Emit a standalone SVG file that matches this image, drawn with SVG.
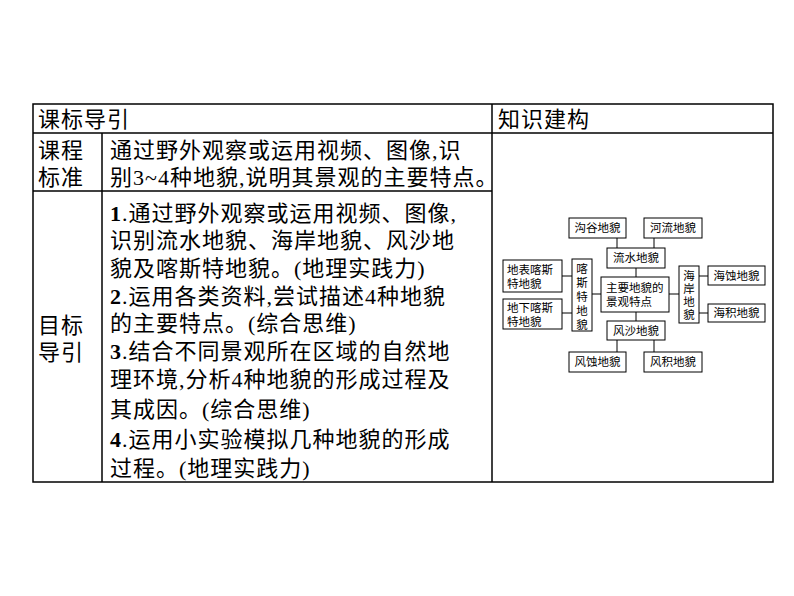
<svg xmlns="http://www.w3.org/2000/svg" width="794" height="596" viewBox="0 0 794 596">
<style>
.t{font-family:"Liberation Serif","Noto Sans CJK SC",sans-serif;font-size:22px;letter-spacing:1px;fill:#000}
.s{font-family:"Liberation Serif","Noto Sans CJK SC",sans-serif;font-size:11.5px;fill:#000}
.b{fill:#fff;stroke:#000;stroke-width:1}
.g{stroke:#000;stroke-width:1.5;fill:none}
.c{stroke:#000;stroke-width:1;fill:none}
</style>
<rect width="794" height="596" fill="#fff"/>
<g id="table">
<rect x="33" y="104" width="740" height="378" class="g"/>
<line x1="33" y1="133" x2="773" y2="133" class="g"/>
<line x1="33" y1="191" x2="492" y2="191" class="g"/>
<line x1="492" y1="104" x2="492" y2="482" class="g"/>
<line x1="102" y1="133" x2="102" y2="482" class="g"/>
<text class="t" x="38" y="127">课标导引</text>
<text class="t" x="498" y="127">知识建构</text>
<text class="t" x="38" y="158">课程</text>
<text class="t" x="38" y="185">标准</text>
<text class="t" x="110" y="158">通过野外观察或运用视频、图像,识</text>
<text class="t" x="110" y="185">别3~4种地貌,说明其景观的主要特点。</text>
<text class="t" x="38" y="333">目标</text>
<text class="t" x="38" y="360">导引</text>
<text class="t" x="110" y="221"><tspan font-weight="bold">1</tspan>.通过野外观察或运用视频、图像,</text>
<text class="t" x="110" y="248">识别流水地貌、海岸地貌、风沙地</text>
<text class="t" x="110" y="276">貌及喀斯特地貌。(地理实践力)</text>
<text class="t" x="110" y="304"><tspan font-weight="bold">2</tspan>.运用各类资料,尝试描述4种地貌</text>
<text class="t" x="110" y="331">的主要特点。(综合思维)</text>
<text class="t" x="110" y="359"><tspan font-weight="bold">3</tspan>.结合不同景观所在区域的自然地</text>
<text class="t" x="110" y="387">理环境,分析4种地貌的形成过程及</text>
<text class="t" x="110" y="417">其成因。(综合思维)</text>
<text class="t" x="110" y="447"><tspan font-weight="bold">4</tspan>.运用小实验模拟几种地貌的形成</text>
<text class="t" x="110" y="476">过程。(地理实践力)</text>
</g>
<g id="connectors">
<line x1="617" y1="238" x2="617" y2="248" class="c"/>
<line x1="654" y1="238" x2="654" y2="248" class="c"/>
<line x1="636" y1="268" x2="636" y2="277" class="c"/>
<line x1="636" y1="312" x2="636" y2="321" class="c"/>
<line x1="617" y1="340" x2="617" y2="352" class="c"/>
<line x1="654" y1="340" x2="654" y2="352" class="c"/>
<line x1="562" y1="276" x2="572" y2="276" class="c"/>
<line x1="562" y1="313" x2="572" y2="313" class="c"/>
<line x1="592" y1="294" x2="601" y2="294" class="c"/>
<line x1="669" y1="294" x2="679" y2="294" class="c"/>
<line x1="699" y1="276" x2="708" y2="276" class="c"/>
<line x1="699" y1="313" x2="708" y2="313" class="c"/>
</g>
<g id="n-gougu"><rect class="b" x="569" y="218" width="57" height="20"/><text class="s" x="597.5" y="232" text-anchor="middle">沟谷地貌</text></g>
<g id="n-heliu"><rect class="b" x="644" y="218" width="58" height="20"/><text class="s" x="673" y="232" text-anchor="middle">河流地貌</text></g>
<g id="n-liushui"><rect class="b" x="607" y="248" width="58" height="20"/><text class="s" x="636" y="262" text-anchor="middle">流水地貌</text></g>
<g id="n-dibiao"><rect class="b" x="503" y="260" width="59" height="32"/><text class="s" x="507" y="274">地表喀斯</text><text class="s" x="507" y="288">特地貌</text></g>
<g id="n-dixia"><rect class="b" x="503" y="299" width="59" height="30"/><text class="s" x="507" y="312">地下喀斯</text><text class="s" x="507" y="326">特地貌</text></g>
<g id="n-kasite"><rect class="b" x="572" y="259" width="20" height="72"/><text class="s" x="582" text-anchor="middle"><tspan x="582" y="273">喀</tspan><tspan x="582" y="287">斯</tspan><tspan x="582" y="301">特</tspan><tspan x="582" y="315">地</tspan><tspan x="582" y="329">貌</tspan></text></g>
<g id="n-main"><rect class="b" x="601" y="277" width="68" height="35"/><text class="s" x="606" y="292">主要地貌的</text><text class="s" x="606" y="306">景观特点</text></g>
<g id="n-haian"><rect class="b" x="679" y="266" width="20" height="57"/><text class="s" x="689" text-anchor="middle"><tspan x="689" y="280">海</tspan><tspan x="689" y="293">岸</tspan><tspan x="689" y="306">地</tspan><tspan x="689" y="319">貌</tspan></text></g>
<g id="n-haishi"><rect class="b" x="708" y="266" width="57" height="19"/><text class="s" x="736.5" y="279.5" text-anchor="middle">海蚀地貌</text></g>
<g id="n-haiji"><rect class="b" x="708" y="304" width="57" height="18"/><text class="s" x="736.5" y="317" text-anchor="middle">海积地貌</text></g>
<g id="n-fengsha"><rect class="b" x="607" y="321" width="58" height="19"/><text class="s" x="636" y="334.5" text-anchor="middle">风沙地貌</text></g>
<g id="n-fengshi"><rect class="b" x="569" y="352" width="57" height="20"/><text class="s" x="597.5" y="366" text-anchor="middle">风蚀地貌</text></g>
<g id="n-fengji"><rect class="b" x="644" y="352" width="58" height="20"/><text class="s" x="673" y="366" text-anchor="middle">风积地貌</text></g>
</svg>
